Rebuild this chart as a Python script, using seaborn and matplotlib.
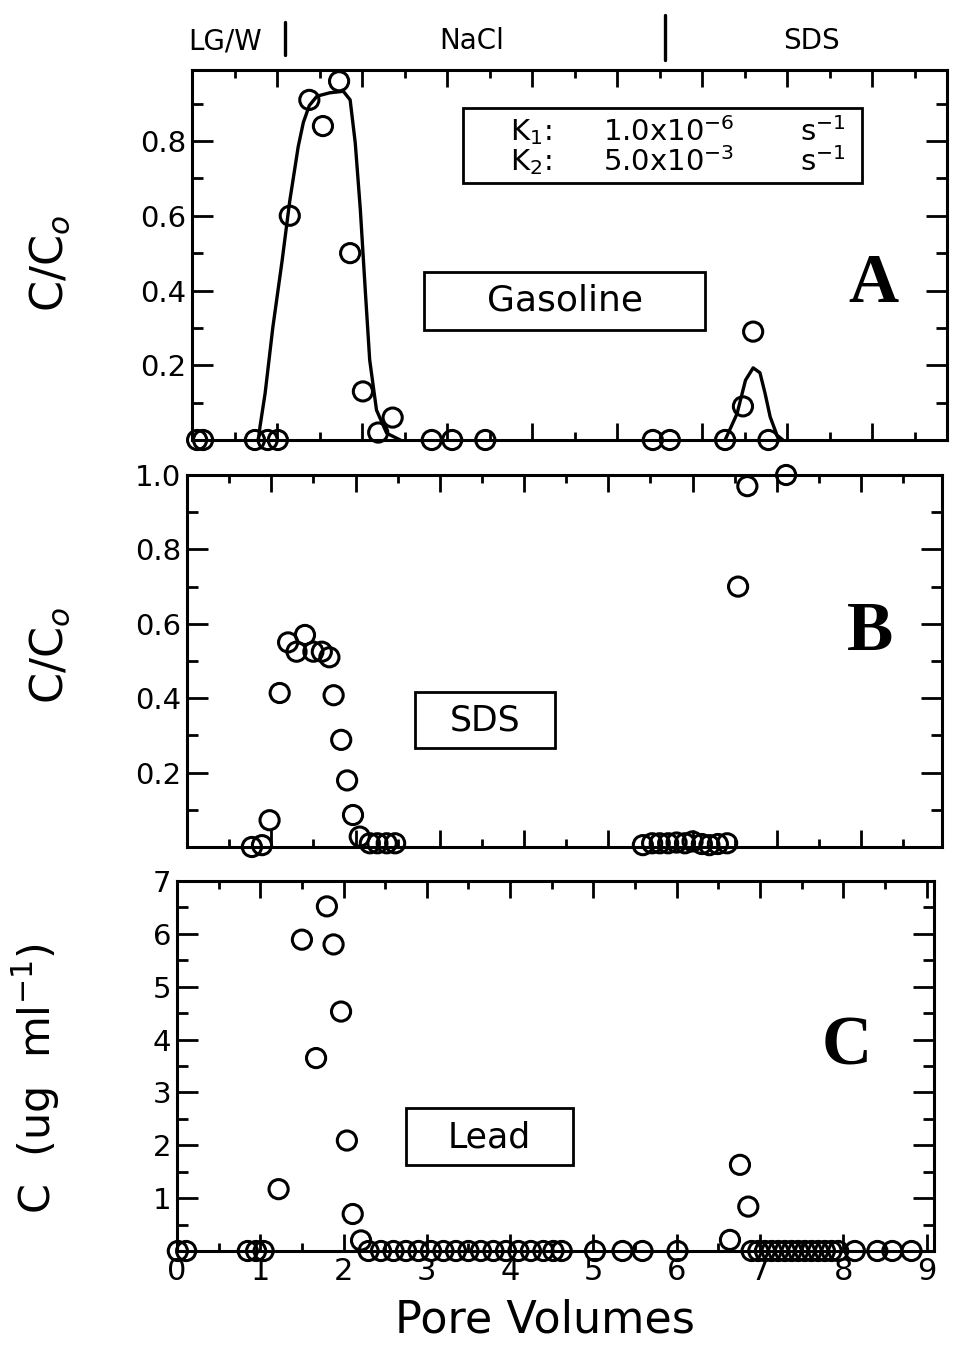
import matplotlib
matplotlib.use("Agg")
import matplotlib.pyplot as plt
import matplotlib.transforms as mtransforms
from matplotlib.patches import Rectangle
import seaborn as sns
import numpy as np

sns.set_theme(style="ticks")
plt.rcParams['font.family'] = ['DejaVu Sans']
plt.rcParams['mathtext.fontset'] = 'dejavusans'
for key in ['text.color', 'axes.labelcolor', 'xtick.color', 'ytick.color', 'axes.edgecolor']:
    plt.rcParams[key] = 'black'

# Panel A - gasoline (C/Co vs pore volumes)
gas_x = [0.06, 0.13, 0.74, 0.89, 1.01, 1.15, 1.38, 1.54, 1.73, 1.86, 2.01, 2.19, 2.36,
         2.82, 3.06, 3.45, 5.42, 5.62, 6.27, 6.48, 6.60, 6.78]
gas_y = [0, 0, 0, 0, 0, 0.60, 0.91, 0.84, 0.96, 0.50, 0.13, 0.02, 0.06,
         0, 0, 0, 0, 0, 0, 0.09, 0.29, 0]

# model fit curves in panel A
fit1_x = [0.78, 0.80, 0.86, 0.95, 1.06, 1.15, 1.25, 1.31, 1.38, 1.47, 1.62, 1.78, 1.86,
          1.92, 1.98, 2.04, 2.09, 2.17, 2.29, 2.45]
fit1_y = [0, 0.036, 0.125, 0.30, 0.48, 0.64, 0.786, 0.85, 0.895, 0.92, 0.929, 0.933, 0.91,
          0.795, 0.616, 0.393, 0.214, 0.08, 0.018, 0]
fit2_x = [6.27, 6.41, 6.51, 6.60, 6.68, 6.74, 6.80, 6.88, 6.95]
fit2_y = [0, 0.07, 0.16, 0.193, 0.18, 0.125, 0.062, 0.013, 0]

# Panel B - SDS
sds_x = [0.77, 0.89, 0.98, 1.10, 1.20, 1.30, 1.40, 1.50, 1.60, 1.69, 1.74, 1.83, 1.90,
         1.97, 2.05, 2.17, 2.26, 2.37, 2.47,
         5.41, 5.52, 5.61, 5.71, 5.81, 5.91, 6.00, 6.11, 6.20, 6.30, 6.41,
         6.54, 6.65, 7.11]
sds_y = [0.0, 0.005, 0.072, 0.414, 0.55, 0.525, 0.57, 0.525, 0.525, 0.51, 0.408, 0.288, 0.179,
         0.086, 0.028, 0.01, 0.01, 0.01, 0.01,
         0.005, 0.01, 0.01, 0.01, 0.012, 0.01, 0.015, 0.008, 0.005, 0.008, 0.01,
         0.70, 0.97, 1.0]

# Panel C - lead (ug/ml)
lead_x = [0.01, 0.11, 0.85, 0.95, 1.04, 1.22, 1.50, 1.67, 1.80, 1.88, 1.97, 2.04, 2.11, 2.21,
          2.30, 2.45, 2.60, 2.75, 2.90, 3.05, 3.20, 3.35, 3.50, 3.65, 3.80, 3.95, 4.10, 4.25,
          4.40, 4.52, 4.62, 5.02, 5.35, 5.59, 6.01, 6.64, 6.76, 6.86,
          6.90, 6.98, 7.06, 7.14, 7.22, 7.30, 7.38, 7.46, 7.54, 7.62, 7.70, 7.78, 7.86, 7.94,
          8.14, 8.41, 8.59, 8.82]
lead_y = [0, 0, 0, 0, 0, 1.17, 5.89, 3.65, 6.52, 5.80, 4.53, 2.09, 0.70, 0.20,
          0, 0, 0, 0, 0, 0, 0, 0, 0, 0, 0, 0, 0, 0,
          0, 0, 0, 0, 0, 0, 0, 0.21, 1.63, 0.84,
          0, 0, 0, 0, 0, 0, 0, 0, 0, 0, 0, 0, 0, 0,
          0, 0, 0, 0]

xticks = [0, 1, 2, 3, 4, 5, 6, 7, 8, 9]

fig = plt.figure(figsize=(9.54, 13.47), dpi=100)
W, H = 954.0, 1347.0


def make_ax(left, top, right, bottom):
    return fig.add_axes([left / W, 1 - bottom / H, (right - left) / W, (bottom - top) / H])


axA = make_ax(192, 70, 947, 440)
axB = make_ax(187, 475, 942, 847)
axC = make_ax(177, 881, 934, 1251)

lw = 2.2


def style_axis(ax, xmax, ymax, yticks, yminor, ylabels, show_x):
    ax.set_xlim(0, xmax)
    ax.set_ylim(0, ymax)
    ax.set_xticks([t for t in xticks if t <= xmax])
    ax.set_xticks([t + 0.5 for t in xticks if t + 0.5 < xmax], minor=True)
    ax.set_yticks(yticks)
    ax.set_yticks(yminor, minor=True)
    ax.set_yticklabels(ylabels)
    if show_x:
        ax.set_xticklabels([str(t) for t in xticks if t <= xmax])
    else:
        ax.set_xticklabels([])
    for s in ax.spines.values():
        s.set_linewidth(lw)
        s.set_color('black')
    ax.tick_params(which='both', direction='in', top=True, right=True,
                   color='black', width=2)
    ax.tick_params(axis='x', which='major', length=12, labelsize=22, pad=4)
    ax.tick_params(axis='x', which='minor', length=6)
    ax.tick_params(axis='y', which='major', length=15, labelsize=21, pad=4)
    ax.tick_params(axis='y', which='minor', length=8)
    ax.set_xlabel('')
    ax.set_ylabel('')


def draw_points(ax, x, y):
    sns.scatterplot(x=x, y=y, ax=ax, s=190, marker='o', facecolors='none',
                    edgecolor='black', linewidth=2.2, clip_on=False, zorder=5)


def box(ax, x, y, w, h):
    ax.add_patch(Rectangle((x, y), w, h, transform=ax.transAxes, facecolor='white',
                           edgecolor='black', linewidth=2, zorder=3))


def label(ax, x, y, text, size=25, ha='center'):
    ax.text(x, y, text, transform=ax.transAxes, ha=ha, va='center', fontsize=size,
            zorder=4)


def panel_letter(ax, x, y, text):
    ax.text(x, y, text, transform=ax.transAxes, ha='center', va='center',
            fontsize=50, fontweight='bold', family='Liberation Serif')


# --- Panel A ---
sns.lineplot(x=fit1_x, y=fit1_y, ax=axA, color='black', linewidth=2.4, sort=False,
             estimator=None)
sns.lineplot(x=fit2_x, y=fit2_y, ax=axA, color='black', linewidth=2.4, sort=False,
             estimator=None)
draw_points(axA, gas_x, gas_y)
style_axis(axA, 8.88, 0.99, [0.2, 0.4, 0.6, 0.8], [0.1, 0.3, 0.5, 0.7, 0.9],
           ['0.2', '0.4', '0.6', '0.8'], False)
box(axA, 0.359, 0.695, 0.528, 0.203)
for yy, k, val in [(0.832, 'K$_1$:', '1.0x10$^{-6}$'), (0.752, 'K$_2$:', '5.0x10$^{-3}$')]:
    label(axA, 0.421, yy, k, size=21, ha='left')
    label(axA, 0.544, yy, val, size=21, ha='left')
    label(axA, 0.805, yy, 's$^{-1}$', size=21, ha='left')
box(axA, 0.307, 0.297, 0.372, 0.157)
label(axA, 0.494, 0.376, 'Gasoline', size=26)
panel_letter(axA, 0.903, 0.42, 'A')

# phase labels above panel A
trans = mtransforms.blended_transform_factory(axA.transData, axA.transAxes)
for xb, y0, y1 in [(1.09, 1.04, 1.13), (5.56, 1.027, 1.149)]:
    axA.plot([xb, xb], [y0, y1], transform=trans, color='black', lw=2.4, clip_on=False)
for xt, lab in [(0.39, 'LG/W'), (3.29, 'NaCl'), (7.29, 'SDS')]:
    axA.text(xt, 1.078, lab, transform=trans, ha='center', va='center', fontsize=20)

# --- Panel B ---
draw_points(axB, sds_x, sds_y)
style_axis(axB, 8.96, 1.0, [0.2, 0.4, 0.6, 0.8, 1.0], [0.1, 0.3, 0.5, 0.7, 0.9],
           ['0.2', '0.4', '0.6', '0.8', '1.0'], False)
box(axB, 0.302, 0.266, 0.185, 0.151)
label(axB, 0.395, 0.341, 'SDS')
panel_letter(axB, 0.905, 0.575, 'B')

# --- Panel C ---
draw_points(axC, lead_x, lead_y)
style_axis(axC, 9.09, 7.0, [1, 2, 3, 4, 5, 6, 7], [0.5, 1.5, 2.5, 3.5, 4.5, 5.5, 6.5],
           ['1', '2', '3', '4', '5', '6', '7'], True)
box(axC, 0.3025, 0.232, 0.2206, 0.154)
label(axC, 0.412, 0.308, 'Lead')
panel_letter(axC, 0.885, 0.551, 'C')

# axis titles
fig.text(50 / W, 1 - 263 / H, 'C/C$_o$', rotation=90, ha='center', va='center', fontsize=32)
fig.text(50 / W, 1 - 655 / H, 'C/C$_o$', rotation=90, ha='center', va='center', fontsize=32)
fig.text(36 / W, 1 - 1079 / H, 'C  (ug  ml$^{-1}$)', rotation=90, ha='center', va='center',
         fontsize=31)
fig.text(545 / W, 1 - 1320 / H, 'Pore Volumes', ha='center', va='center', fontsize=32)

fig.savefig('out.png', dpi=100)
